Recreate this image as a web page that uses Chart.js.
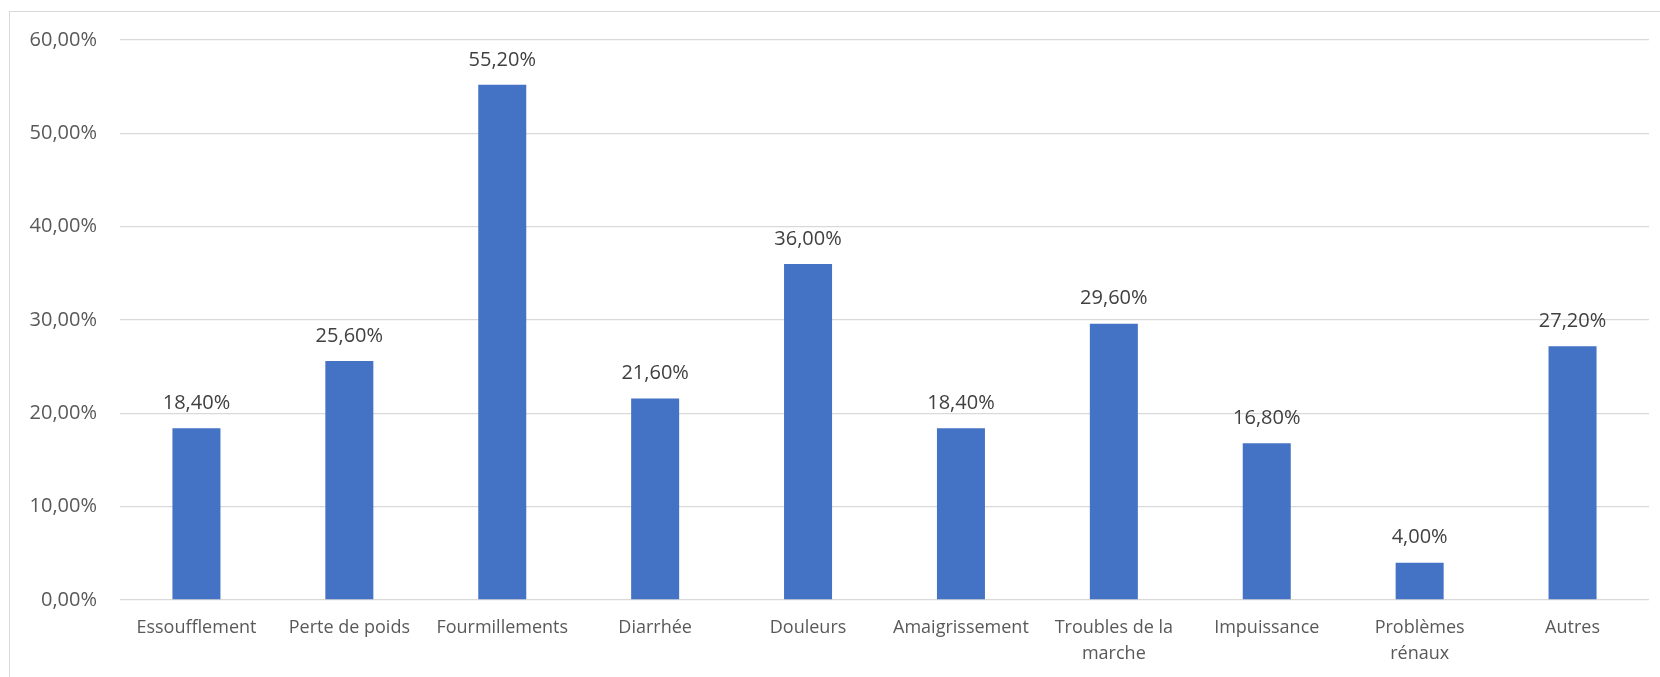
<!DOCTYPE html>
<html>
<head>
<meta charset="utf-8">
<script src="https://cdn.jsdelivr.net/npm/chart.js@4/dist/chart.umd.min.js"></script>
<style>
  html, body { margin: 0; padding: 0; background: #fff; }
  #wrap { position: relative; width: 1660px; height: 677px; overflow: hidden; }
  #frame {
    position: absolute; left: 9px; top: 11px; width: 1700px; height: 700px;
    border-left: 1.5px solid #d9d9d9; border-top: 1.5px solid #d9d9d9;
  }
  canvas { position: absolute; left: 0; top: 0; }
</style>
</head>
<body>
<div id="wrap">
  <div id="frame"></div>
  <canvas id="chart" width="1660" height="677"></canvas>
</div>
<script>
// ---------- DATA ----------
const categories = [
  "Essoufflement",
  "Perte de poids",
  "Fourmillements",
  "Diarrhée",
  "Douleurs",
  "Amaigrissement",
  ["Troubles de la", "marche"],
  "Impuissance",
  ["Problèmes", "rénaux"],
  "Autres"
];
const percentages = [18.4, 25.6, 55.2, 21.6, 36.0, 18.4, 29.6, 16.8, 4.0, 27.2];
const yTicks = [0, 10, 20, 30, 40, 50, 60];

const FONT = "'Open Sans', 'Liberation Sans', sans-serif";

function fmtPct(v) {
  return v.toFixed(2).replace(".", ",") + "%";
}

// value labels above each bar
const barLabels = {
  id: "barLabels",
  afterDatasetsDraw(chart) {
    const ctx = chart.ctx;
    const meta = chart.getDatasetMeta(0);
    ctx.save();
    ctx.font = "20px " + FONT;
    ctx.fillStyle = "#404040";
    ctx.textAlign = "center";
    ctx.textBaseline = "middle";
    meta.data.forEach((bar, i) => {
      ctx.fillText(fmtPct(percentages[i]), bar.x, bar.y - 25);
    });
    ctx.restore();
  }
};

const ctx = document.getElementById("chart").getContext("2d");
new Chart(ctx, {
  type: "bar",
  data: {
    labels: categories,
    datasets: [{
      data: percentages,
      backgroundColor: "#4472C4",
      borderWidth: 0,
      barPercentage: 0.314,
      categoryPercentage: 1.0
    }]
  },
  options: {
    responsive: false,
    animation: false,
    devicePixelRatio: 1,
    layout: { padding: { top: 40, right: 11, left: 0, bottom: 0 } },
    plugins: {
      legend: { display: false },
      tooltip: { enabled: false }
    },
    scales: {
      x: {
        grid: { display: false, drawTicks: false },
        border: { display: false },
        ticks: {
          color: "#595959",
          font: { family: FONT, size: 18, lineHeight: 1.45 },
          padding: 15,
          maxRotation: 0,
          autoSkip: false
        },
        afterFit(scale) { scale.height = 77; }
      },
      y: {
        min: 0,
        max: 60,
        afterBuildTicks(scale) {
          scale.ticks = yTicks.map(v => ({ value: v }));
        },
        grid: { color: "#d9d9d9", lineWidth: 1.3, drawTicks: false },
        border: { display: false },
        ticks: {
          color: "#595959",
          font: { family: FONT, size: 20 },
          padding: 23,
          callback: v => fmtPct(v)
        },
        afterFit(scale) { scale.width = 120; }
      }
    }
  },
  plugins: [barLabels]
});
</script>
</body>
</html>
